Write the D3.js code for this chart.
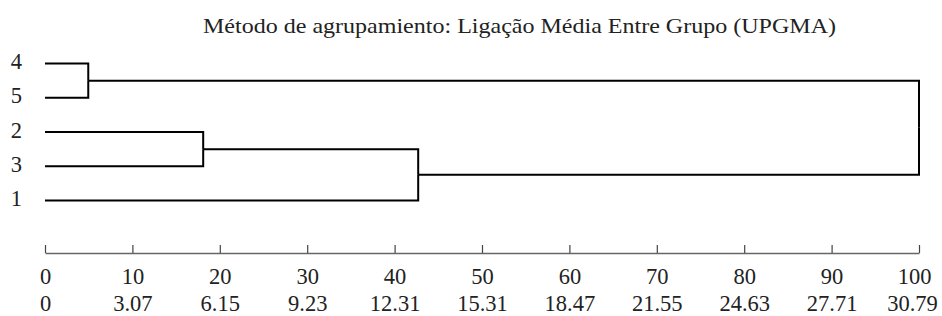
<!DOCTYPE html>
<html><head><meta charset="utf-8">
<script src="https://cdn.jsdelivr.net/npm/d3@7"></script>
<style>html,body{margin:0;padding:0;background:#fff;}svg{display:block;} svg text{font-family:"Liberation Serif","Times New Roman","DejaVu Serif",serif;}</style>
</head><body>
<svg id="chart" width="942" height="316"></svg>
<script>
const title = "Método de agrupamiento: Ligação Média Entre Grupo (UPGMA)";
const leaves = ["4", "5", "2", "3", "1"];
const mergeIds = ["C1", "C2", "C3", "C4"];
const mergeLeft = ["4", "2", "C2", "C1"];
const mergeRight = ["5", "3", "1", "C3"];
const mergeHeights = [4.95, 18.1, 42.7, 100];
const tickValues = [0, 10, 20, 30, 40, 50, 60, 70, 80, 90, 100];
const distanceLabels = ["0", "3.07", "6.15", "9.23", "12.31", "15.31", "18.47", "21.55", "24.63", "27.71", "30.79"];

const FONT = '"Liberation Serif","Times New Roman","DejaVu Serif",serif';
const FS = 22.5;
const svg = d3.select("#chart");
const x = d3.scaleLinear().domain([0, 100]).range([45, 919]);
const y = d3.scalePoint().domain(leaves).range([63.5, 200.5]);

const nodes = {};
leaves.forEach(l => nodes[l] = {x: 0, y: y(l)});
mergeIds.forEach((id, i) => {
  const a = nodes[mergeLeft[i]], b = nodes[mergeRight[i]];
  nodes[id] = {x: mergeHeights[i], y: (a.y + b.y) / 2, a, b};
});

svg.append("text").attr("x", 519.5).attr("y", 32.5).attr("text-anchor", "middle")
  .attr("textLength", 633).attr("lengthAdjust", "spacingAndGlyphs")
  .style("font-family", FONT).attr("font-size", 22).attr("fill", "#222").text(title);

svg.append("g").selectAll("text").data(leaves).join("text")
  .attr("x", 22).attr("y", d => y(d) + 5.6).attr("text-anchor", "end")
  .style("font-family", FONT).attr("font-size", FS).attr("fill", "#222").text(d => d);

const g = svg.append("g").attr("fill", "none").attr("stroke", "#000").attr("stroke-width", 2);
mergeIds.forEach((id, i) => {
  const n = nodes[id];
  [n.a, n.b].forEach(c => {
    g.append("path").attr("d", `M${x(c.x)},${c.y}H${x(n.x)}V${n.y}`);
  });
});

const axis1 = svg.append("g").attr("transform", "translate(0,253)")
  .call(d3.axisBottom(x).tickValues(tickValues).tickSize(-8).tickSizeOuter(0).tickPadding(14.7).tickFormat(d3.format("d")));
axis1.attr("font-family", null).attr("font-size", null);
axis1.select(".domain").attr("stroke", "#666").attr("stroke-width", 1.5);
axis1.selectAll(".tick line").attr("stroke", "#444").attr("stroke-width", 1.2);
axis1.selectAll("text").style("font-family", FONT).attr("font-size", FS).attr("fill", "#222");
axis1.selectAll(".tick text").filter((d, i, n) => i === n.length - 1).attr("dx", -5);

const axis2 = svg.append("g").attr("transform", "translate(0,253)")
  .call(d3.axisBottom(x).tickValues(tickValues).tickSize(0).tickPadding(42.5).tickFormat((d, i) => distanceLabels[i]));
axis2.attr("font-family", null).attr("font-size", null);
axis2.select(".domain").remove();
axis2.selectAll("text").style("font-family", FONT).attr("font-size", FS).attr("fill", "#222");
axis2.selectAll(".tick text").filter((d, i, n) => i === n.length - 1).attr("dx", -7);
</script>
</body></html>
